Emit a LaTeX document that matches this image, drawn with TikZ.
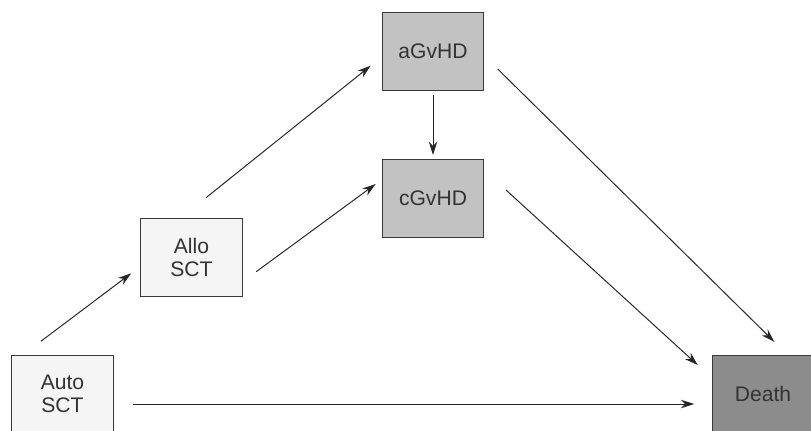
\documentclass[tikz,border=0pt]{standalone}
\usepackage{fontspec}
\setmainfont{Liberation Sans}
\usepackage{xcolor}
\usepackage{tikz}
\usetikzlibrary{arrows.meta, calc}

\definecolor{boxline}{HTML}{3A3A3A}
\definecolor{textgray}{HTML}{333333}
\definecolor{lightfill}{HTML}{F5F5F5}
\definecolor{midfill}{HTML}{C2C2C2}
\definecolor{darkfill}{HTML}{8C8C8C}

\begin{document}
\begin{tikzpicture}[x=0.025cm, y=-0.025cm,
  box/.style={draw=boxline, line width=0.7pt, minimum width=2.525cm, minimum height=1.95cm,
    align=center, text=textgray, font=\fontsize{15}{16.5}\selectfont},
  arr/.style={line width=0.7pt, color=black!85, -{Stealth[length=9.5pt, width=6pt, inset=3pt]}}]
\useasboundingbox (0,0) rectangle (811,430);

\node[box, fill=lightfill] (auto) at (62.5,394) {Auto\\SCT};
\node[box, fill=lightfill] (allo) at (191.5,257.5) {Allo\\SCT};
\node[box, fill=midfill] (agvhd) at (433,51) {aGvHD};
\node[box, fill=midfill] (cgvhd) at (433,198.5) {cGvHD};
\node[box, fill=darkfill] (death) at (763,394) {Death};

\draw[arr] ($(auto.north)+(-21.5,-13.3)$) -- ($(allo.west)+(-9.3,15.8)$);
\draw[arr] ($(allo.north)+(14.5,-20.3)$) -- ($(agvhd.west)+(-11.3,14.7)$);
\draw[arr] ($(allo.east)+(13.7,14.2)$) -- ($(cgvhd.west)+(-6.3,-14.5)$);
\draw[arr] ($(agvhd.south)+(0,4)$) -- ($(cgvhd.north)+(0,-4)$);
\draw[arr] ($(agvhd.east)+(13.7,18)$) -- ($(death.north)+(11.3,-12.7)$);
\draw[arr] ($(cgvhd.east)+(22,-8.5)$) -- ($(death.west)+(-14.3,-29)$);
\draw[arr] ($(auto.east)+(19.5,10)$) -- ($(death.west)+(-17.7,10)$);
\end{tikzpicture}
\end{document}
